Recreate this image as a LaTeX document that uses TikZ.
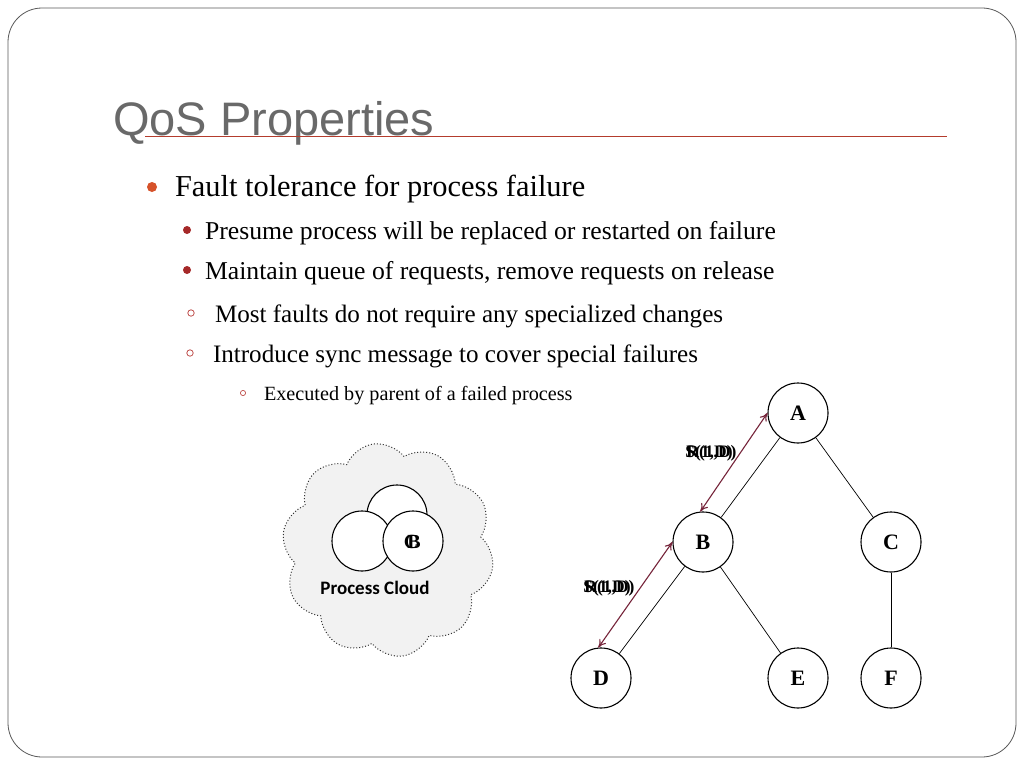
\documentclass[tikz,border=0pt]{standalone}
\usepackage{fontspec}
\setmainfont{Liberation Serif}
\newfontfamily\titlefont{Liberation Sans}
\newfontfamily\calfont{Carlito}
\usetikzlibrary{shapes.symbols,arrows.meta}
\definecolor{titlegray}{RGB}{105,105,105}
\definecolor{rulered}{RGB}{180,60,45}
\definecolor{dotone}{RGB}{214,82,42}
\definecolor{dottwo}{RGB}{165,40,40}
\definecolor{ringc}{RGB}{192,80,77}
\definecolor{msgc}{RGB}{118,36,58}
\definecolor{cloudfill}{RGB}{242,242,242}
\begin{document}
\begin{tikzpicture}[x=1pt,y=-1pt,
  txt/.style={anchor=base west,inner sep=0pt,outer sep=0pt},
  tnode/.style={circle,draw,line width=1.1pt,minimum size=60pt,inner sep=0pt,fill=white,font=\fontsize{22}{24}\selectfont\bfseries},
  edge/.style={line width=0.7pt},
  msg/.style={draw=msgc,line width=1.1pt,{To[length=8pt,width=8pt]}-{To[length=8pt,width=8pt]}},
  msglabel/.style={inner sep=0pt,font=\fontsize{17.5}{20}\selectfont\bfseries},
  cloudcirc/.style={circle,draw,line width=1.1pt,fill=white,minimum size=60pt,inner sep=0pt,font=\fontsize{20}{24}\selectfont\bfseries}]
\useasboundingbox (0,0) rectangle (1024,768);
\fill[white] (0,0) rectangle (1024,768);
\draw[gray!70!black,line width=0.8pt,rounded corners=34pt] (8,8) rectangle (1016,757);

% title
\node[txt,text=titlegray,font=\titlefont\fontsize{47}{52}\selectfont] (title) at (113,135) {QoS Properties};
\coordinate (rl) at (145,136);
\coordinate (rr) at (947,136);
\draw[rulered,line width=0.8pt] (rl) -- (rr);

% bullets
\fill[dotone] (152,187) circle (5pt);
\node[txt,font=\fontsize{30.4}{36}\selectfont] (l1) at (175,196) {Fault tolerance for process failure};
\fill[dottwo] (187,230) circle (4pt);
\node[txt,font=\fontsize{25.7}{30}\selectfont] (l2) at (205,239) {Presume process will be replaced or restarted on failure};
\fill[dottwo] (187,270) circle (4pt);
\node[txt,font=\fontsize{25.7}{30}\selectfont] (l3) at (205,279) {Maintain queue of requests, remove requests on release};
\draw[ringc,line width=0.8pt] (191,313) circle (3.2pt);
\node[txt,font=\fontsize{25.1}{30}\selectfont] (l4) at (215,322) {Most faults do not require any specialized changes};
\draw[ringc,line width=0.8pt] (190,353) circle (3.2pt);
\node[txt,font=\fontsize{25.1}{30}\selectfont] (l5) at (213,362) {Introduce sync message to cover special failures};
\draw[ringc,line width=0.7pt] (243,393) circle (2.6pt);
\node[txt,font=\fontsize{20.2}{24}\selectfont] (l6) at (264,400) {Executed by parent of a failed process};

% process cloud
\node[cloud,cloud puffs=10,cloud puff arc=120,aspect=1,draw=black!80,dotted,line width=1pt,fill=cloudfill,minimum width=212pt,minimum height=214pt,inner sep=0pt,rotate=8] (cloud) at (388,550) {};
\node[cloudcirc] (ct) at (397,515) {};
\node[cloudcirc] (cl) at (362,541) {};
\node[cloudcirc] (cr) at (413,541) {};
\node[inner sep=0pt,font=\fontsize{20}{24}\selectfont\bfseries] (cC) at (411,542) {C};
\node[inner sep=0pt,font=\fontsize{20}{24}\selectfont\bfseries] (cB) at (414,542) {B};
\node[inner sep=0pt,font=\calfont\fontsize{19}{22}\selectfont\bfseries] (pc) at (375,588) {Process Cloud};

% tree
\node[tnode] (A) at (798,413) {A};
\node[tnode] (B) at (703,542) {B};
\node[tnode] (C) at (891,542) {C};
\node[tnode] (D) at (601,678) {D};
\node[tnode] (E) at (798,678) {E};
\node[tnode] (F) at (891,678) {F};
\draw[edge] (A) -- (B);
\draw[edge] (A) -- (C);
\draw[edge] (B) -- (D);
\draw[edge] (B) -- (E);
\draw[edge] (C) -- (F);

% sync messages
\draw[msg] (A.180) -- (B.95);
\draw[msg] (B.180) -- (D.95);
\node[msglabel] (m1a) at (709,453) {S(1,D)};
\node[msglabel] (m1b) at (711.5,453) {R(1,D)};
\node[msglabel] (m2a) at (607,588) {S(1,D)};
\node[msglabel] (m2b) at (609.5,588) {R(1,D)};
\end{tikzpicture}
\end{document}
